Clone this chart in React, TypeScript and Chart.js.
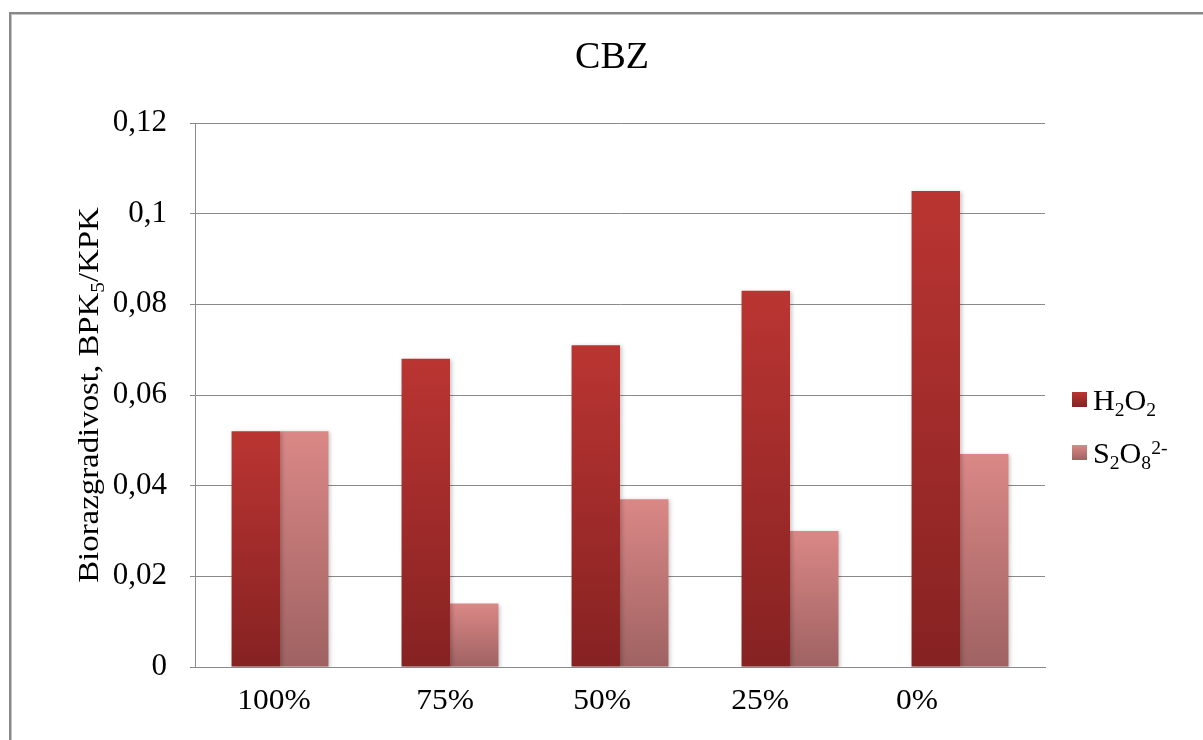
import React, { useEffect, useRef } from "react";
import { Chart, registerables } from "chart.js";

Chart.register(...registerables);

const categories = ["100%", "75%", "50%", "25%", "0%"];
const h2o2Values = [0.052, 0.068, 0.071, 0.083, 0.105];
const s2o8Values = [0.052, 0.014, 0.037, 0.03, 0.047];
const yTickValues = [0, 0.02, 0.04, 0.06, 0.08, 0.1, 0.12];
const yTickLabels = ["0", "0,02", "0,04", "0,06", "0,08", "0,1", "0,12"];
const chartTitle = "CBZ";

// horizontal nudge of each category label (as rendered in the reference)
const xLabelShift = [-6, -5, -18, -30, -43];

type Seg = { t: string; sub?: boolean; sup?: boolean };
const yTitleSegs: Seg[] = [{ t: "Biorazgradivost, BPK" }, { t: "5", sub: true }, { t: "/KPK" }];
const h2o2Label: Seg[] = [{ t: "H" }, { t: "2", sub: true }, { t: "O" }, { t: "2", sub: true }];
const s2o8Label: Seg[] = [{ t: "S" }, { t: "2", sub: true }, { t: "O" }, { t: "8", sub: true }, { t: "2-", sup: true }];

const FONT = '"Liberation Serif", "Times New Roman", Times, serif';
const H_TOP = "#BA3532";
const H_BOT = "#862222";
const S_TOP = "#DA8886";
const S_BOT = "#9F6262";

function barGradient(top: string, bottom: string) {
  return (ctx: any) => {
    const chart = ctx.chart;
    const ys = chart.scales && chart.scales.y;
    if (!ys || ctx.type !== "data") return top;
    const y0 = ys.getPixelForValue(ctx.raw);
    const y1 = ys.getPixelForValue(0);
    if (!isFinite(y0) || !isFinite(y1) || y0 === y1) return top;
    const g = chart.ctx.createLinearGradient(0, y0, 0, y1);
    g.addColorStop(0, top);
    g.addColorStop(1, bottom);
    return g;
  };
}

function drawRich(
  ctx: CanvasRenderingContext2D,
  segs: Seg[],
  x: number,
  y: number,
  size: number,
  align: "left" | "center",
  stretch = 1
) {
  const small = size * 0.65;
  let total = 0;
  const widths: number[] = [];
  segs.forEach((s) => {
    ctx.font = `${s.sub || s.sup ? small : size}px ${FONT}`;
    const w = ctx.measureText(s.t).width;
    widths.push(w);
    total += w;
  });
  ctx.save();
  ctx.translate(x, y);
  ctx.scale(stretch, 1);
  let cx = align === "center" ? -total / 2 : 0;
  ctx.textAlign = "left";
  ctx.textBaseline = "alphabetic";
  segs.forEach((s, i) => {
    ctx.font = `${s.sub || s.sup ? small : size}px ${FONT}`;
    const dy = s.sub ? size * 0.2 : s.sup ? -size * 0.3 : 0;
    ctx.fillText(s.t, cx, dy);
    cx += widths[i];
  });
  ctx.restore();
}

const decorPlugin = {
  id: "decor",
  beforeDatasetsDraw(chart: any) {
    const ctx = chart.ctx;
    ctx.save();
    ctx.shadowColor = "rgba(0,0,0,0.22)";
    ctx.shadowBlur = 4;
    ctx.shadowOffsetX = 1.5;
    ctx.shadowOffsetY = 1;
  },
  afterDatasetsDraw(chart: any) {
    chart.ctx.restore();
  },
  afterDraw(chart: any) {
    const ctx: CanvasRenderingContext2D = chart.ctx;
    const area = chart.chartArea;
    const xs = chart.scales.x;
    ctx.save();
    ctx.fillStyle = "#000";
    // title
    drawRich(ctx, [{ t: chartTitle }], 612, 68, 38, "center");
    // category labels
    categories.forEach((c, i) => {
      drawRich(ctx, [{ t: c }], xs.getPixelForValue(i) + xLabelShift[i], area.bottom + 42, 30, "center", 1.05);
    });
    // y-axis title
    ctx.save();
    ctx.translate(98, (area.top + area.bottom) / 2);
    ctx.rotate(-Math.PI / 2);
    drawRich(ctx, yTitleSegs, 0, 0, 30, "center", 1.095);
    ctx.restore();
    // legend
    const items = [
      { segs: h2o2Label, top: H_TOP, bot: H_BOT, y: 392 },
      { segs: s2o8Label, top: S_TOP, bot: S_BOT, y: 445 },
    ];
    items.forEach((it) => {
      const g = ctx.createLinearGradient(0, it.y, 0, it.y + 15);
      g.addColorStop(0, it.top);
      g.addColorStop(1, it.bot);
      ctx.fillStyle = g;
      ctx.fillRect(1072, it.y, 15, 15);
      ctx.fillStyle = "#000";
      drawRich(ctx, it.segs, 1093, it.y + 18, 29, "left", 1.04);
    });
    ctx.restore();
  },
};

export default function App() {
  const ref = useRef<HTMLCanvasElement | null>(null);
  useEffect(() => {
    if (!ref.current) return;
    const chart = new Chart(ref.current, {
      type: "bar",
      data: {
        labels: categories,
        datasets: [
          {
            label: "H2O2",
            data: h2o2Values,
            backgroundColor: barGradient(H_TOP, H_BOT) as any,
            categoryPercentage: 0.57,
            barPercentage: 1,
            borderWidth: 0,
          },
          {
            label: "S2O8 2-",
            data: s2o8Values,
            backgroundColor: barGradient(S_TOP, S_BOT) as any,
            categoryPercentage: 0.57,
            barPercentage: 1,
            borderWidth: 0,
          },
        ],
      },
      options: {
        responsive: false,
        animation: false,
        events: [],
        layout: { padding: { top: 123, right: 158, left: 0, bottom: 0 } },
        plugins: {
          legend: { display: false },
          title: { display: false },
          tooltip: { enabled: false },
        },
        scales: {
          x: {
            grid: { display: false },
            border: { display: true, color: "#8a8a8a", width: 1 },
            ticks: { display: false },
            afterFit: (s: any) => {
              s.height = 73;
            },
          },
          y: {
            min: 0,
            max: 0.12,
            afterBuildTicks: (s: any) => {
              s.ticks = yTickValues.map((v) => ({ value: v }));
            },
            grid: { color: "#8a8a8a", lineWidth: 1, tickLength: 5, drawTicks: true },
            border: { display: true, color: "#8a8a8a", width: 1 },
            ticks: {
              color: "#000",
              font: { family: FONT, size: 31 },
              padding: 23,
              callback: (_v: any, i: number) => yTickLabels[i],
            },
            afterFit: (s: any) => {
              s.width = 195;
            },
          },
        },
      },
      plugins: [decorPlugin],
    });
    return () => chart.destroy();
  }, []);
  return (
    <div style={{ position: "fixed", left: 0, top: 0, width: 1203, height: 740, background: "#fff", overflow: "hidden" }}>
      <div
        style={{
          position: "absolute",
          left: 9,
          top: 12,
          width: 1300,
          height: 800,
          borderLeft: "2px solid #888",
          borderTop: "2px solid #888",
          boxShadow: "inset 1px 1px 0 #c4c4c4",
        }}
      />
      <canvas ref={ref} width={1203} height={740} style={{ position: "absolute", left: 0, top: 0, display: "block" }} />
    </div>
  );
}
